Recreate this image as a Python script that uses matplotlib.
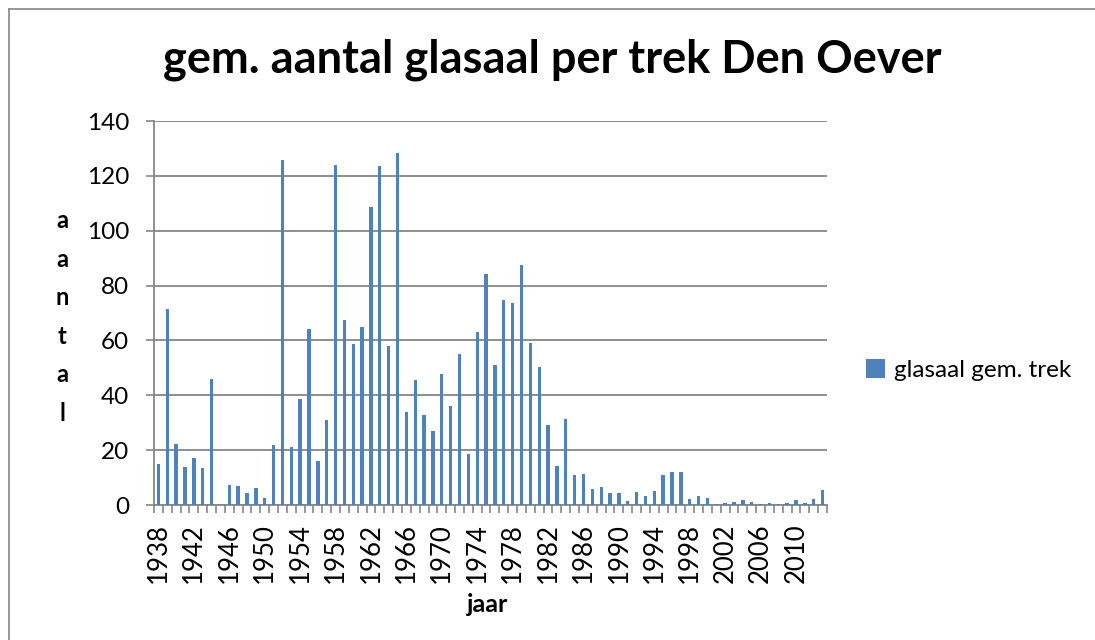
import matplotlib.pyplot as plt
import numpy as np

jaren = list(range(1938, 2014))
glasaal = [15.0, 71.3, 22.1, 14.0, 17.2, 13.5, 45.9, 0, 7.2, 7.0,
           4.5, 6.3, 2.4, 21.7, 125.6, 21.0, 38.7, 64.0, 15.9, 31.0,
           123.9, 67.4, 58.7, 65.0, 108.8, 123.7, 57.9, 128.3, 33.8, 45.6,
           32.7, 26.8, 47.9, 36.0, 54.9, 18.5, 63.0, 84.3, 51.2, 74.9,
           73.5, 87.6, 58.9, 50.2, 29.3, 14.4, 31.5, 11.0, 11.2, 6.0,
           6.7, 4.5, 4.5, 1.6, 4.9, 3.2, 5.1, 11.0, 12.2, 12.2,
           2.1, 3.4, 2.4, 0.5, 0.9, 1.1, 1.8, 1.2, 0.4, 0.9,
           0.3, 0.6, 1.8, 0.9, 2.1, 5.5]
y_ticks = list(range(0, 141, 20))

plt.rcParams['font.family'] = ['Lato', 'DejaVu Sans']
grijs = '#868686'
blauw = '#4F81BD'

W, H = 1095, 640
fig = plt.figure(figsize=(W / 100, H / 100), dpi=100)
ax = fig.add_axes([154 / W, 1 - 505 / H, (827 - 154) / W, (505 - 121) / H])

x = np.arange(len(jaren))
ax.bar(x, glasaal, width=0.38, color=blauw, label='glasaal gem. trek', zorder=3)

ax.set_xlim(-0.5, len(jaren) - 0.5)
ax.set_ylim(0, 140)
ax.set_yticks(y_ticks)
ax.grid(axis='y', color=grijs, linewidth=1.3, zorder=0)

# labels elke 4 jaar, streepjes tussen de categorieen
ax.set_xticks(x[::4])
ax.set_xticklabels([str(j) for j in jaren[::4]], rotation=90)
ax.set_xticks(np.arange(-0.5, len(jaren), 1), minor=True)
ax.tick_params(axis='x', which='major', length=0, labelsize=18.5, pad=13)
ax.tick_params(axis='x', which='minor', length=6, color=grijs, width=1.2)
ax.tick_params(axis='y', length=6, color=grijs, width=1.2, labelsize=17.5, pad=12)

for s in ['top', 'right']:
    ax.spines[s].set_visible(False)
for s in ['left', 'bottom']:
    ax.spines[s].set_color(grijs)
    ax.spines[s].set_linewidth(1.3)

fig.text(552 / W, 1 - 60 / H, 'gem. aantal glasaal per trek Den Oever',
         ha='center', va='center', fontsize=32.5, fontweight='bold')
fig.text(488 / W, 1 - 604 / H, 'jaar', ha='center', va='center',
         fontsize=18, fontweight='bold')
fig.text(62 / W, 1 - 317 / H, 'a\na\nn\nt\na\nl', ha='center', va='center',
         fontsize=17, fontweight='bold', linespacing=1.82)

fig.legend(loc='center left', bbox_to_anchor=(866 / W, 1 - 370 / H),
           frameon=False, fontsize=17.5, handlelength=0.8, handleheight=0.8,
           handletextpad=0.35, borderpad=0, borderaxespad=0)

# kader om de grafiek
fig.add_artist(plt.Line2D([9 / W, 9 / W], [0, 1 - 9 / H], color=grijs, linewidth=1.2))
fig.add_artist(plt.Line2D([9 / W, 1], [1 - 9 / H, 1 - 9 / H], color=grijs, linewidth=1.2))

fig.savefig('out.png', dpi=100)
